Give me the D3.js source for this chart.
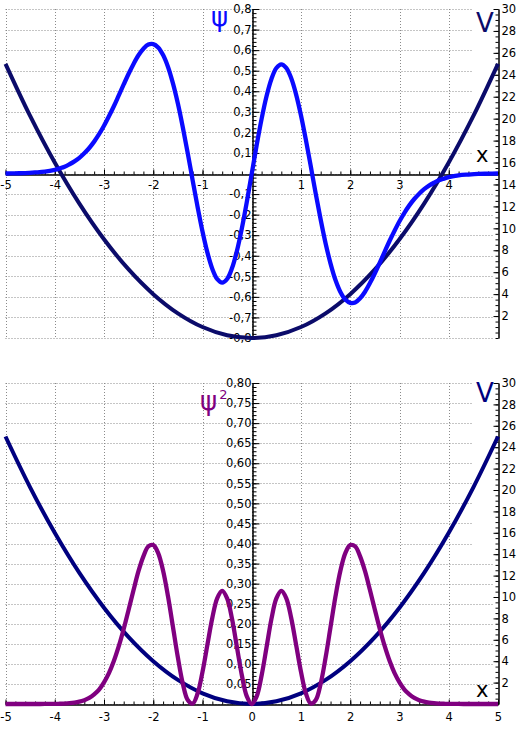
<!DOCTYPE html>
<html>
<head>
<meta charset="UTF-8">
<title>psi 3</title>
<style>
  body { margin: 0; background: #fff; }
  text { font-family: "DejaVu Sans", sans-serif; }
</style>
</head>
<body>
<div id="chart"></div>
<script src="https://cdn.jsdelivr.net/npm/d3@7"></script>
<script>

// x positions of the sampled wave function
const xPsi = [-5, -4.8, -4.6, -4.4, -4.2, -4, -3.9, -3.8, -3.7, -3.6, -3.5, -3.4, -3.3, -3.2, -3.1,
  -3, -2.9, -2.8, -2.7, -2.6, -2.5, -2.4, -2.3, -2.2, -2.1, -2, -1.9, -1.8, -1.7, -1.6, -1.5,
  -1.4, -1.3, -1.2, -1.1, -1, -0.9, -0.8, -0.7, -0.6, -0.5, -0.4, -0.3, -0.2, -0.1, 0,
  0.1, 0.2, 0.3, 0.4, 0.5, 0.6, 0.7, 0.8, 0.9, 1, 1.1, 1.2, 1.3, 1.4, 1.5, 1.6, 1.7, 1.8, 1.9,
  2, 2.1, 2.2, 2.3, 2.4, 2.5, 2.6, 2.7, 2.8, 2.9, 3, 3.1, 3.2, 3.3, 3.4, 3.5, 3.6, 3.7, 3.8, 3.9,
  4, 4.2, 4.4, 4.6, 4.8, 5];

// psi (top chart)
const psi = [0, 0.001, 0.002, 0.005, 0.009, 0.018, 0.025, 0.033, 0.045, 0.059, 0.076, 0.098, 0.124, 0.155, 0.191,
  0.232, 0.278, 0.327, 0.380, 0.433, 0.485, 0.533, 0.575, 0.607, 0.627, 0.629, 0.613, 0.576, 0.518, 0.438, 0.340,
  0.225, 0.099, -0.033, -0.162, -0.282, -0.385, -0.464, -0.514, -0.531, -0.513, -0.460, -0.376, -0.266, -0.138, 0,
  0.138, 0.266, 0.376, 0.460, 0.513, 0.531, 0.514, 0.464, 0.385, 0.282, 0.162, 0.033, -0.099, -0.225, -0.340, -0.438, -0.518, -0.576, -0.613,
  -0.629, -0.627, -0.607, -0.575, -0.533, -0.485, -0.433, -0.380, -0.327, -0.278, -0.232, -0.191, -0.155, -0.124, -0.098, -0.076, -0.059, -0.045, -0.033, -0.025,
  -0.018, -0.009, -0.005, -0.002, -0.001, 0];

// psi squared (bottom chart)
const psi2 = [0, 0, 0, 0, 0.0001, 0.0003, 0.0006, 0.0011, 0.002, 0.0035, 0.0058, 0.0096, 0.015, 0.024, 0.036,
  0.054, 0.077, 0.107, 0.144, 0.187, 0.235, 0.284, 0.331, 0.368, 0.393, 0.396, 0.376, 0.332, 0.268, 0.192, 0.116,
  0.051, 0.010, 0.001, 0.026, 0.080, 0.148, 0.215, 0.264, 0.282, 0.263, 0.212, 0.141, 0.071, 0.019, 0,
  0.019, 0.071, 0.141, 0.212, 0.263, 0.282, 0.264, 0.215, 0.148, 0.080, 0.026, 0.001, 0.010, 0.051, 0.116, 0.192, 0.268, 0.332, 0.376,
  0.396, 0.393, 0.368, 0.331, 0.284, 0.235, 0.187, 0.144, 0.107, 0.077, 0.054, 0.036, 0.024, 0.015, 0.0096, 0.0058, 0.0035, 0.002, 0.0011, 0.0006,
  0.0003, 0.0001, 0, 0, 0, 0];

// potential V
const xV = [-5, -4.5, -4, -3.5, -3, -2.5, -2, -1.5, -1, -0.5, 0, 0.5, 1, 1.5, 2, 2.5, 3, 3.5, 4, 4.5, 5];
const vals = [25, 20.25, 16, 12.25, 9, 6.25, 4, 2.25, 1, 0.25, 0, 0.25, 1, 2.25, 4, 6.25, 9, 12.25, 16, 20.25, 25];

// ticks
const xTicksTop = [-5, -4, -3, -2, -1, 1, 2, 3, 4];
const xTicksBottom = [-5, -4, -3, -2, -1, 0, 1, 2, 3, 4, 5];
const xGrid = [-5, -4, -3, -2, -1, 0, 1, 2, 3, 4];
const psiTicks = [-0.8, -0.7, -0.6, -0.5, -0.4, -0.3, -0.2, -0.1, 0.1, 0.2, 0.3, 0.4, 0.5, 0.6, 0.7, 0.8];
const psi2Ticks = [0.05, 0.1, 0.15, 0.2, 0.25, 0.3, 0.35, 0.4, 0.45, 0.5, 0.55, 0.6, 0.65, 0.7, 0.75, 0.8];
const vTicks = [2, 4, 6, 8, 10, 12, 14, 16, 18, 20, 22, 24, 26, 28, 30];

const W = 520, H = 733;
const svg = d3.select("#chart").append("svg")
  .attr("width", W).attr("height", H);

const x = d3.scaleLinear().domain([-5, 5]).range([5.5, 498]);

function panel(o) {
  const g = svg.append("g");
  const yL = d3.scaleLinear().domain(o.leftDomain).range([o.bottom, o.top]);
  const yV = d3.scaleLinear().domain([0, 30]).range([o.bottom, o.top]);

  // grid
  const grid = g.append("g")
    .attr("stroke", "#8a8a8a").attr("stroke-width", 1)
    .attr("stroke-dasharray", "1,2");
  grid.selectAll("line.v").data(xGrid).join("line")
    .attr("x1", d => Math.round(x(d)) + 0.5).attr("x2", d => Math.round(x(d)) + 0.5)
    .attr("y1", o.top).attr("y2", o.bottom);
  grid.selectAll("line.h").data(o.gridRows).join("line")
    .attr("x1", x(-5)).attr("x2", d => d > o.shortAbove ? 473 : 494)
    .attr("y1", d => Math.round(yL(d)) + 0.5).attr("y2", d => Math.round(yL(d)) + 0.5);

  // x axis
  const yx = Math.round(yL(0)) + 0.5;
  g.append("g").attr("transform", `translate(0,${yx})`)
    .call(d3.axisBottom(x).tickValues(d3.range(-5, 5.01, 0.2)).tickSizeInner(-3).tickSizeOuter(0).tickFormat(""));
  g.append("g").attr("transform", `translate(0,${yx})`)
    .call(d3.axisBottom(x).tickValues(o.xTicks).tickSizeInner(-5).tickSizeOuter(0).tickPadding(o.xPad)
      .tickFormat(d => String(d)));

  // left value axis (at x = 0)
  const x0 = Math.round(x(0)) + 0.5;
  g.append("g").attr("transform", `translate(${x0},0)`)
    .call(d3.axisLeft(yL).tickValues(o.minorLeft).tickSizeInner(-4).tickSizeOuter(0).tickFormat(""));
  g.append("g").attr("transform", `translate(${x0},0)`)
    .call(d3.axisLeft(yL).tickValues(o.leftTicks).tickSizeInner(-7).tickSizeOuter(0).tickPadding(1)
      .tickFormat(o.leftFormat));

  // right V axis
  const xr = Math.round(x(5)) + 0.5;
  g.append("g").attr("transform", `translate(${xr},0)`)
    .call(d3.axisRight(yV).tickValues(d3.range(0, 30.01, 0.5)).tickSizeInner(-3).tickSizeOuter(0).tickFormat(""));
  g.append("g").attr("transform", `translate(${xr},0)`)
    .call(d3.axisRight(yV).tickValues(vTicks).tickSizeInner(-5).tickSizeOuter(0).tickPadding(3)
      .tickFormat(d => String(d)));

  g.selectAll(".tick text").attr("font-size", 11.5).attr("font-family", "DejaVu Sans, sans-serif").attr("fill", "#000");
  g.selectAll(".domain, .tick line").attr("stroke", "#000");

  // curves
  g.append("path")
    .datum(d3.zip(xV, vals))
    .attr("fill", "none").attr("stroke", o.vColor).attr("stroke-width", 4)
    .attr("d", d3.line().x(d => x(d[0])).y(d => yV(d[1])).curve(d3.curveCatmullRom));
  g.append("path")
    .datum(d3.zip(xPsi, o.values))
    .attr("fill", "none").attr("stroke", o.color).attr("stroke-width", 4.3)
    .attr("stroke-linejoin", "round")
    .attr("d", d3.line().x(d => x(d[0])).y(d => yL(d[1])).curve(d3.curveCatmullRom));

  return g;
}

const topChart = panel({
  top: 9, bottom: 338, leftDomain: [-0.8, 0.8],
  gridRows: d3.range(-8, 9).map(i => i / 10), shortAbove: 0.05,
  xTicks: xTicksTop, xPad: 6,
  minorLeft: d3.range(-40, 41).map(i => i / 50),
  leftTicks: psiTicks, leftFormat: d => d.toFixed(1).replace(".", ","),
  values: psi, color: "#0a0aff", vColor: "#0b0b6a"
});
topChart.append("text").attr("x", 211).attr("y", 26).attr("font-size", 26).attr("fill", "#0a0aff").text("ψ");
topChart.append("text").attr("x", 476).attr("y", 32).attr("font-size", 26).attr("fill", "#0b0b6a").text("V");
topChart.append("text").attr("x", 476).attr("y", 162).attr("font-size", 21).attr("fill", "#000").text("x");

const bottomChart = panel({
  top: 383, bottom: 704, leftDomain: [0, 0.8],
  gridRows: d3.range(0, 17).map(i => i / 20), shortAbove: 0.375,
  xTicks: xTicksBottom, xPad: 8,
  minorLeft: d3.range(0, 81).map(i => i / 100),
  leftTicks: psi2Ticks, leftFormat: d => d.toFixed(2).replace(".", ","),
  values: psi2, color: "#800080", vColor: "#00007f"
});
const lab = bottomChart.append("text").attr("x", 200).attr("y", 410).attr("font-size", 26).attr("fill", "#800080");
lab.append("tspan").text("ψ");
lab.append("tspan").attr("font-size", 13).attr("dx", 2).attr("dy", -11).text("2");
bottomChart.append("text").attr("x", 476).attr("y", 402).attr("font-size", 26).attr("fill", "#00007f").text("V");
bottomChart.append("text").attr("x", 476).attr("y", 697).attr("font-size", 21).attr("fill", "#000").text("x");

</script>
</body>
</html>
